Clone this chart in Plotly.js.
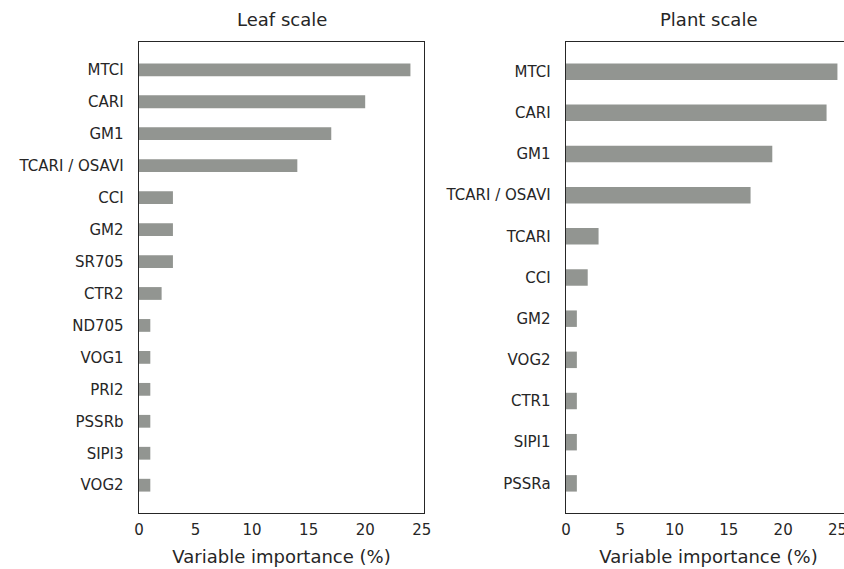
<!DOCTYPE html>
<html>
<head>
<meta charset="utf-8">
<script src="https://cdn.plot.ly/plotly-3.0.1.min.js"></script>
<style>
html,body{margin:0;padding:0;overflow:hidden;background:#fff;}
#chart{width:860px;height:569px;}
</style>
</head>
<body>
<div id="chart"></div>
<script>
// Leaf scale (top to bottom)
var leafVars = ["MTCI","CARI","GM1","TCARI / OSAVI","CCI","GM2","SR705","CTR2","ND705","VOG1","PRI2","PSSRb","SIPI3","VOG2"];
var leafImportance = [24, 20, 17, 14, 3, 3, 3, 2, 1, 1, 1, 1, 1, 1];

// Plant scale (top to bottom)
var plantVars = ["MTCI","CARI","GM1","TCARI / OSAVI","TCARI","CCI","GM2","VOG2","CTR1","SIPI1","PSSRa"];
var plantImportance = [25, 24, 19, 17, 3, 2, 1, 1, 1, 1, 1];

var panelTitles = ["Leaf scale", "Plant scale"];
var xTitle = "Variable importance (%)";
var xTicks = [0, 5, 10, 15, 20, 25];

var barColor = "#929591";
var ink = "#262626";
var W = 860, H = 569;

var traces = [
  {type:"bar", orientation:"h", x:leafImportance, y:leafVars, width:0.4,
   marker:{color:barColor}, xaxis:"x", yaxis:"y", hoverinfo:"x+y"},
  {type:"bar", orientation:"h", x:plantImportance, y:plantVars, width:0.4,
   marker:{color:barColor}, xaxis:"x2", yaxis:"y2", hoverinfo:"x+y"}
];

function xAx(dom, rng){
  return {domain:dom, range:rng, showgrid:false, zeroline:false,
    showline:true, mirror:true, linecolor:ink, linewidth:1.4,
    ticks:"", ticklabelstandoff:3, tickvals:xTicks,
    tickfont:{family:"DejaVu Sans", size:15, color:ink},
    title:{text:xTitle, font:{family:"DejaVu Sans", size:18, color:ink}, standoff:12},
    fixedrange:true};
}
function yAx(dom, rng, anchor){
  return {domain:dom, range:rng, type:"category", anchor:anchor, showgrid:false, zeroline:false,
    showline:true, mirror:true, linecolor:ink, linewidth:1.4,
    ticks:"", ticklabelstandoff:11, tickfont:{family:"DejaVu Sans", size:15, color:ink},
    fixedrange:true};
}

var yDom = [1-513/H, 1-42/H];
var layout = {
  width:W, height:H,
  margin:{l:0,r:0,t:0,b:0},
  paper_bgcolor:"#fff", plot_bgcolor:"#fff",
  showlegend:false,
  xaxis: Object.assign(xAx([139/W, 424/W], [0, 25.2]), {anchor:"y"}),
  yaxis: yAx(yDom, [leafVars.length-1+0.87, -0.87], "x"),
  xaxis2: Object.assign(xAx([566/W, 851/W], [0, 26.25]), {anchor:"y2"}),
  yaxis2: yAx(yDom, [plantVars.length-1+0.72, -0.72], "x2"),
  annotations:[
    {text:panelTitles[0], x:(139+424)/2/W, y:1-20/H, xref:"paper", yref:"paper",
     xanchor:"center", yanchor:"middle", showarrow:false,
     font:{family:"DejaVu Sans", size:18, color:ink}},
    {text:panelTitles[1], x:(566+851)/2/W, y:1-20/H, xref:"paper", yref:"paper",
     xanchor:"center", yanchor:"middle", showarrow:false,
     font:{family:"DejaVu Sans", size:18, color:ink}}
  ]
};

Plotly.newPlot("chart", traces, layout, {displayModeBar:false, staticPlot:true});
</script>
</body>
</html>
